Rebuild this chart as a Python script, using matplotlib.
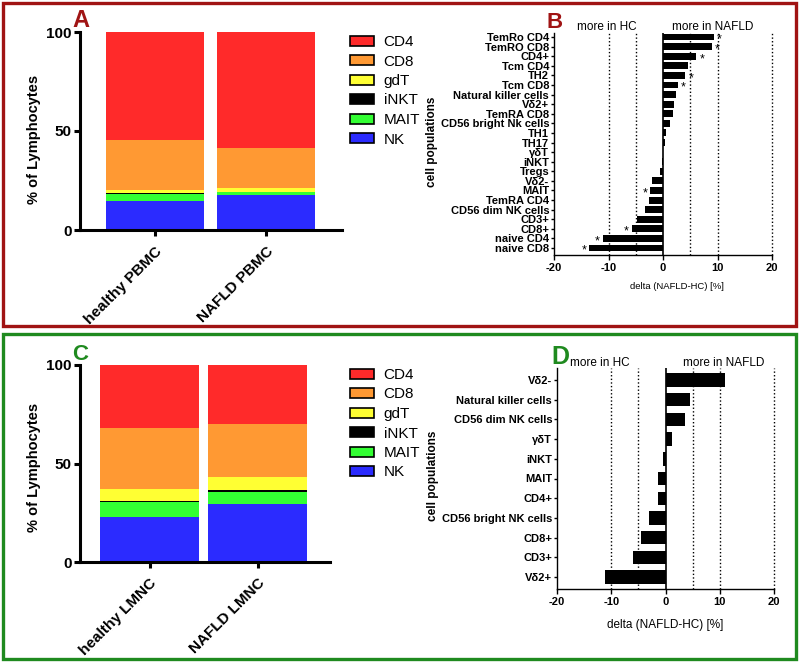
import numpy as np
import matplotlib
matplotlib.use('Agg')
import matplotlib.pyplot as plt
from matplotlib.patches import Patch, Rectangle

plt.rcParams['font.family'] = ['Liberation Sans', 'DejaVu Sans']
plt.rcParams['axes.unicode_minus'] = False

W, H = 800, 663

# stacked composition (bottom -> top)
subsets = ['NK', 'MAIT', 'iNKT', 'gdT', 'CD8', 'CD4']
subset_colors = ['#2b2bff', '#33ff33', '#000000', '#ffff33', '#ff9933', '#ff2a2a']

pbmc_groups = ['healthy PBMC', 'NAFLD PBMC']
pbmc_healthy = [14.6, 3.4, 0.5, 1.8, 25.1, 54.6]
pbmc_nafld = [17.6, 1.6, 0.2, 1.9, 19.9, 58.8]

lmnc_groups = ['healthy LMNC', 'NAFLD LMNC']
lmnc_healthy = [22.8, 7.5, 0.8, 5.9, 31.1, 31.9]
lmnc_nafld = [29.6, 6.0, 0.8, 6.5, 27.0, 30.1]

# delta NAFLD - HC, blood (top -> bottom)
blood_pops = ['TemRo CD4', 'TemRO CD8', 'CD4+', 'Tcm CD4', 'TH2', 'Tcm CD8',
              'Natural killer cells', 'Vδ2+', 'TemRA CD8', 'CD56 bright Nk cells',
              'TH1', 'TH17', 'γδT', 'iNKT', 'Tregs', 'Vδ2-', 'MAIT', 'TemRA CD4',
              'CD56 dim NK cells', 'CD3+', 'CD8+', 'naive CD4', 'naive CD8']
blood_delta = [9.3, 9.0, 6.1, 4.5, 4.1, 2.7, 2.4, 2.0, 1.9, 1.3, 0.5, 0.4, 0.05,
               -0.1, -0.6, -2.0, -2.3, -2.6, -3.3, -4.7, -5.7, -11.1, -13.5]
blood_signif = [1, 1, 1, 0, 1, 1, 0, 0, 0, 0, 0, 0, 0,
                0, 0, 0, 1, 0, 0, 0, 1, 1, 1]

# delta NAFLD - HC, liver (top -> bottom)
liver_pops = ['Vδ2-', 'Natural killer cells', 'CD56 dim NK cells', 'γδT', 'iNKT',
              'MAIT', 'CD4+', 'CD56 bright NK cells', 'CD8+', 'CD3+', 'Vδ2+']
liver_delta = [11.0, 4.6, 3.6, 1.2, -0.4, -1.3, -1.3, -3.1, -4.5, -6.0, -11.2]

guide_lines = [-10, -5, 5, 10, 20]

RED = '#a01414'
GREEN = '#1f8a1f'


def axes_px(fig, l, t, r, b):
    return fig.add_axes([l / W, 1 - b / H, (r - l) / W, (b - t) / H])


def stacked_panel(ax, groups, healthy, nafld, xlim, width, ylab_xy):
    data = np.array([healthy, nafld]).T
    x = np.arange(len(groups))
    bottom = np.zeros(len(groups))
    for vals, color in zip(data, subset_colors):
        ax.bar(x, vals, width=width, bottom=bottom, color=color, linewidth=0)
        bottom += vals
    ax.set_xlim(*xlim)
    ax.set_ylim(0, 100)
    ax.set_yticks([0, 50, 100])
    ax.set_xticks(x)
    ax.set_xticklabels(groups, rotation=45, ha='right', rotation_mode='anchor',
                       fontweight='bold', fontsize=11)
    for s in ['top', 'right']:
        ax.spines[s].set_visible(False)
    for s in ['left', 'bottom']:
        ax.spines[s].set_linewidth(2.2)
    ax.tick_params(axis='y', width=2.2, length=4, labelsize=11, pad=2)
    ax.tick_params(axis='x', width=2.2, length=4, pad=6)
    for t in ax.get_yticklabels():
        t.set_fontweight('bold')
    ax.set_ylabel('% of Lymphocytes', fontweight='bold', fontsize=10.5)
    ax.yaxis.set_label_coords(*ylab_xy)
    handles = [Patch(facecolor=c, edgecolor='black', linewidth=1.2, label=n)
               for n, c in zip(subsets[::-1], subset_colors[::-1])]
    return handles


def delta_panel(ax, pops, delta, bar_h, ylim, xlab_xy, ylab_xy, xlab_size):
    y = np.arange(len(pops))
    for g in guide_lines:
        ax.axvline(g, color='black', linestyle=(0, (1, 1.6)), linewidth=1.0,
                   clip_on=False)
    ax.axvline(0, color='black', linewidth=1.2)
    ax.barh(y, delta, height=bar_h, color='black', linewidth=0)
    ax.set_xlim(-20, 20)
    ax.set_ylim(*ylim)
    ax.set_xticks([-20, -10, 0, 10, 20])
    ax.set_yticks(y)
    ax.set_yticklabels(pops, fontweight='bold', fontsize=8)
    for t in ax.get_xticklabels():
        t.set_fontweight('bold')
    for s in ['top', 'right']:
        ax.spines[s].set_visible(False)
    for s in ['left', 'bottom']:
        ax.spines[s].set_linewidth(1.0)
    ax.tick_params(axis='y', length=2.5, width=1.0, pad=1)
    ax.tick_params(axis='x', length=3.5, width=1.0, pad=2, labelsize=8)
    ax.set_xlabel('delta (NAFLD-HC) [%]', fontsize=xlab_size)
    ax.xaxis.set_label_coords(*xlab_xy)
    ax.set_ylabel('cell populations', fontweight='bold', fontsize=8.5)
    ax.yaxis.set_label_coords(*ylab_xy)


fig = plt.figure(figsize=(W / 100, H / 100), dpi=100)

# panel borders
fig.patches.append(Rectangle((3 / W, 1 - 326 / H), 793 / W, 323 / H, fill=False,
                             edgecolor=RED, linewidth=2.4, transform=fig.transFigure))
fig.patches.append(Rectangle((3 / W, 1 - 659 / H), 793 / W, 325 / H, fill=False,
                             edgecolor=GREEN, linewidth=2.4, transform=fig.transFigure))

legend_kw = dict(frameon=False, fontsize=11, handlelength=1.6, handleheight=0.65,
                 handletextpad=0.6, labelspacing=0.36, borderpad=0, borderaxespad=0)

# A
axA = axes_px(fig, 80, 32, 342, 230)
h = stacked_panel(axA, pbmc_groups, pbmc_healthy, pbmc_nafld, (-0.676, 1.685), 0.89,
                  (-0.15, 0.455))
axA.legend(handles=h, loc='upper left', bbox_to_anchor=(350 / W, 1 - 35 / H),
           bbox_transform=fig.transFigure, **legend_kw)

# C
axC = axes_px(fig, 80, 365, 330, 562)
h = stacked_panel(axC, lmnc_groups, lmnc_healthy, lmnc_nafld, (-0.644, 1.671), 0.917,
                  (-0.157, 0.482))
axC.legend(handles=h, loc='upper left', bbox_to_anchor=(350 / W, 1 - 368 / H),
           bbox_transform=fig.transFigure, **legend_kw)

# B
axB = axes_px(fig, 554, 33, 772, 255)
n = len(blood_pops)
delta_panel(axB, blood_pops, blood_delta, 0.72, (n - 1 + 0.73, -0.42),
            (0.564, -0.12), (-0.53, 0.509), 6.8)
for i, (v, s) in enumerate(zip(blood_delta, blood_signif)):
    if s:
        axB.text(v + np.sign(v) * 1.0, i + 0.3, '*', ha='center', va='center',
                 fontsize=9)

# D
axD = axes_px(fig, 557, 368, 774, 589)
m = len(liver_pops)
delta_panel(axD, liver_pops, liver_delta, 0.68, (m - 1 + 0.61, -0.61),
            (0.5, -0.135), (-0.545, 0.51), 8.5)

# header texts
fig.text(607 / W, 1 - 30 / H, 'more in HC', ha='center', va='baseline', fontsize=8.5)
fig.text(713 / W, 1 - 30 / H, 'more in NAFLD', ha='center', va='baseline', fontsize=8.5)
fig.text(600 / W, 1 - 366 / H, 'more in HC', ha='center', va='baseline', fontsize=8.5)
fig.text(724 / W, 1 - 366 / H, 'more in NAFLD', ha='center', va='baseline', fontsize=8.5)

# panel letters
for letter, x, y, c, fs in [('A', 72, 27, RED, 17), ('B', 547, 28, RED, 16),
                            ('C', 72, 360, GREEN, 16), ('D', 551, 364, GREEN, 18)]:
    fig.text(x / W, 1 - y / H, letter, ha='left', va='baseline', fontsize=fs,
             fontweight='bold', color=c)

fig.savefig('out.png', dpi=100)
